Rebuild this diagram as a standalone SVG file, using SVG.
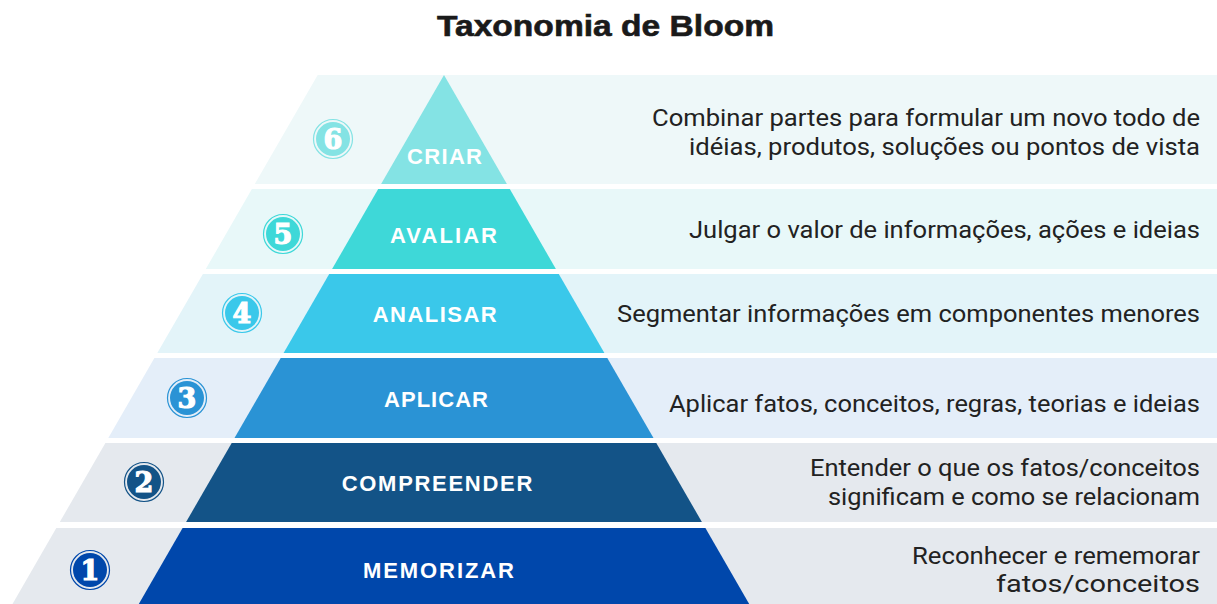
<svg xmlns="http://www.w3.org/2000/svg" width="1217" height="604" viewBox="0 0 1217 604">
<style>
.title{font-family:"Liberation Sans",Arial,sans-serif;font-weight:bold;font-size:29px;fill:#1a1a1a;stroke:#1a1a1a;stroke-width:0.6px}
.lbl{font-family:"Liberation Sans",Arial,sans-serif;font-weight:bold;font-size:22px;fill:#ffffff}
.desc{font-family:Roboto,"Liberation Sans",sans-serif;font-size:24px;fill:#222222;text-anchor:end}
.num{font-family:"DejaVu Serif",serif;font-weight:bold;font-size:27px;fill:#ffffff;stroke:#ffffff;stroke-width:1.2px;text-anchor:middle}
.ring{fill:none;stroke-width:1.2}
</style>
<rect width="1217" height="604" fill="#ffffff"/>
<text class="title" x="437" y="36" textLength="337" lengthAdjust="spacingAndGlyphs">Taxonomia de Bloom</text>

<g id="level6">
<polygon points="317.7,75 1217,75 1217,184 254.8,184" fill="#eef8f9"/>
<polygon points="444,75 506.9,184 381.1,184" fill="#84e3e4"/>
<text class="lbl" x="407" y="164" textLength="75" lengthAdjust="spacing">CRIAR</text>
<circle cx="333" cy="139" r="19.5" class="ring" stroke="#84e3e4"/>
<circle cx="333" cy="139" r="17" fill="#84e3e4"/>
<text class="num" x="333" y="149">6</text>
<text class="desc" x="1200" y="126" textLength="548" lengthAdjust="spacingAndGlyphs">Combinar partes para formular um novo todo de</text>
<text class="desc" x="1200" y="155" textLength="511" lengthAdjust="spacingAndGlyphs">idéias, produtos, soluções ou pontos de vista</text>
</g>

<g id="level5">
<polygon points="251.9,189 1217,189 1217,269 205.8,269" fill="#e8f8f9"/>
<polygon points="378.2,189 509.8,189 555.9,269 332.1,269" fill="#3ed8d8"/>
<text class="lbl" x="390" y="242.5" textLength="107" lengthAdjust="spacing">AVALIAR</text>
<circle cx="283" cy="234" r="19.5" class="ring" stroke="#3ed8d8"/>
<circle cx="283" cy="234" r="17" fill="#3ed8d8"/>
<text class="num" x="283" y="244">5</text>
<text class="desc" x="1200" y="238" textLength="511" lengthAdjust="spacingAndGlyphs">Julgar o valor de informações, ações e ideias</text>
</g>

<g id="level4">
<polygon points="202.9,274 1217,274 1217,353 157.3,353" fill="#e3f4f9"/>
<polygon points="329.2,274 558.8,274 604.4,353 283.6,353" fill="#3ac8ea"/>
<text class="lbl" x="372.7" y="322" textLength="124" lengthAdjust="spacing">ANALISAR</text>
<circle cx="242" cy="313" r="19.5" class="ring" stroke="#3ac8ea"/>
<circle cx="242" cy="313" r="17" fill="#3ac8ea"/>
<text class="num" x="242" y="323">4</text>
<text class="desc" x="1200" y="322" textLength="583" lengthAdjust="spacingAndGlyphs">Segmentar informações em componentes menores</text>
</g>

<g id="level3">
<polygon points="154.4,358 1217,358 1217,438 108.3,438" fill="#e4eef9"/>
<polygon points="280.7,358 607.3,358 653.5,438 234.5,438" fill="#2a93d5"/>
<text class="lbl" x="384" y="406.7" textLength="104" lengthAdjust="spacing">APLICAR</text>
<circle cx="187" cy="398" r="19.5" class="ring" stroke="#2a93d5"/>
<circle cx="187" cy="398" r="17" fill="#2a93d5"/>
<text class="num" x="187" y="408">3</text>
<text class="desc" x="1200" y="412" textLength="531" lengthAdjust="spacingAndGlyphs">Aplicar fatos, conceitos, regras, teorias e ideias</text>
</g>

<g id="level2">
<polygon points="105.4,443 1217,443 1217,522 59.8,522" fill="#e5e9ee"/>
<polygon points="231.7,443 656.3,443 701.9,522 186.1,522" fill="#135387"/>
<text class="lbl" x="341.7" y="491" textLength="190.6" lengthAdjust="spacing">COMPREENDER</text>
<circle cx="144" cy="482" r="19.5" class="ring" stroke="#135387"/>
<circle cx="144" cy="482" r="17" fill="#135387"/>
<text class="num" x="144" y="492">2</text>
<text class="desc" x="1200" y="476" textLength="390" lengthAdjust="spacingAndGlyphs">Entender o que os fatos/conceitos</text>
<text class="desc" x="1200" y="505" textLength="372" lengthAdjust="spacingAndGlyphs">significam e como se relacionam</text>
</g>

<g id="level1">
<polygon points="56.3,528 1217,528 1217,604 12.5,604" fill="#e5e9ee"/>
<polygon points="182.6,528 705.4,528 749.2,604 138.8,604" fill="#0047ab"/>
<text class="lbl" x="363" y="578" textLength="151" lengthAdjust="spacing">MEMORIZAR</text>
<circle cx="90" cy="570" r="19.5" class="ring" stroke="#0047ab"/>
<circle cx="90" cy="570" r="17" fill="#0047ab"/>
<text class="num" x="90" y="580">1</text>
<text class="desc" x="1200" y="564" textLength="288" lengthAdjust="spacingAndGlyphs">Reconhecer e rememorar</text>
<text class="desc" x="1200" y="592" textLength="204" lengthAdjust="spacingAndGlyphs">fatos/conceitos</text>
</g>

<g id="connectors"/>
</svg>
